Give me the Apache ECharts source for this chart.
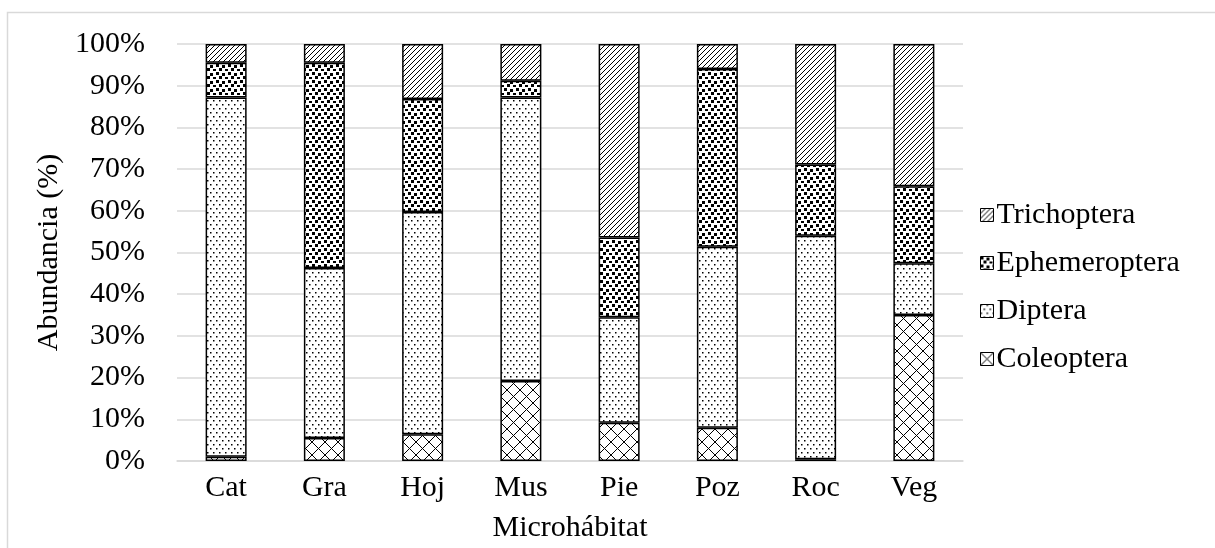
<!DOCTYPE html>
<html>
<head>
<meta charset="utf-8">
<style>
  html, body { margin: 0; padding: 0; background: #fff; }
  #chart { width: 1215px; height: 548px; }
</style>
<script src="https://cdn.jsdelivr.net/npm/echarts@6/dist/echarts.min.js"></script>
</head>
<body>
<div id="chart"></div>
<script>
// Microhabitat categories and relative abundance (%) of each order
const categories = ['Cat', 'Gra', 'Hoj', 'Mus', 'Pie', 'Poz', 'Roc', 'Veg'];
const coleoptera    = [1.0, 5.5, 6.4, 19.2, 9.2, 8.0, 0.4, 35.0];
const diptera       = [86.2, 40.8, 53.3, 68.0, 25.3, 43.4, 53.6, 12.4];
const ephemeroptera = [8.3, 49.2, 27.1, 4.0, 19.1, 42.6, 17.1, 18.5];
const trichoptera   = [4.5, 4.5, 13.2, 8.8, 46.4, 6.0, 28.9, 34.1];
const yTicks = [0, 10, 20, 30, 40, 50, 60, 70, 80, 90, 100];

const FONT = '"Liberation Serif", "Times New Roman", serif';
const FS = 30;

// Monochrome fill patterns, drawn on small tiles
function tile(w, h, draw) {
  const c = document.createElement('canvas');
  c.width = w; c.height = h;
  const g = c.getContext('2d');
  g.fillStyle = '#fff';
  g.fillRect(0, 0, w, h);
  g.fillStyle = '#000';
  g.strokeStyle = '#000';
  draw(g, w, h);
  return { image: c, repeat: 'repeat' };
}

// forward diagonal stripes
const hatchPattern = tile(5, 5, (g, w, h) => {
  g.lineWidth = 1;
  g.beginPath();
  g.moveTo(-1, h + 1); g.lineTo(w + 1, -1);
  g.moveTo(-1, 1); g.lineTo(1, -1);
  g.moveTo(w - 1, h + 1); g.lineTo(w + 1, h - 1);
  g.stroke();
});

// large confetti squares
const confettiPattern = tile(12, 8, (g) => {
  g.fillRect(0, 0, 3, 3);
  g.fillRect(6, 1, 3, 3);
  g.fillRect(3, 4, 3, 3);
  g.fillRect(9, 5, 3, 2);
});

// sparse dots
const dotPattern = tile(6, 8, (g) => {
  g.fillRect(0, 0, 1.5, 1.5);
  g.fillRect(3, 4, 1.5, 1.5);
});

// diagonal crosshatch
const crossPattern = tile(13, 13, (g, w, h) => {
  g.lineWidth = 1;
  g.beginPath();
  g.moveTo(0, 0); g.lineTo(w, h);
  g.moveTo(w, 0); g.lineTo(0, h);
  g.stroke();
});

function barSeries(name, data, pattern) {
  return {
    name: name,
    type: 'bar',
    stack: 'total',
    barWidth: 41,
    data: data,
    itemStyle: { color: pattern, borderColor: '#000', borderWidth: 1.5 },
    emphasis: { disabled: true }
  };
}

const chart = echarts.init(document.getElementById('chart'), null, { renderer: 'canvas' });

chart.setOption({
  animation: false,
  backgroundColor: '#fff',
  textStyle: { fontFamily: FONT },
  graphic: [{
    type: 'rect',
    shape: { x: 7.5, y: 12.5, width: 1220, height: 560 },
    style: { fill: 'none', stroke: '#d9d9d9', lineWidth: 1.5 },
    silent: true
  }],
  grid: { left: 177, right: 252, top: 44, bottom: 85, containLabel: false },
  legend: {
    orient: 'vertical',
    left: 975,
    top: 195,
    itemWidth: 13,
    itemHeight: 13,
    itemGap: 18,
    icon: 'rect',
    data: ['Trichoptera', 'Ephemeroptera', 'Diptera', 'Coleoptera'],
    textStyle: { fontFamily: FONT, fontSize: FS, lineHeight: FS, color: '#000', padding: [0, 0, 0, -2] },
    itemStyle: { borderColor: '#000', borderWidth: 1 }
  },
  xAxis: {
    type: 'category',
    data: categories,
    name: 'Microhábitat',
    nameLocation: 'middle',
    nameGap: 52,
    nameTextStyle: { fontFamily: FONT, fontSize: FS, color: '#000' },
    axisLine: { lineStyle: { color: '#d9d9d9', width: 1.5 } },
    axisTick: { show: false },
    axisLabel: { fontFamily: FONT, fontSize: FS, color: '#000', margin: 12 }
  },
  yAxis: {
    type: 'value',
    min: yTicks[0],
    max: yTicks[yTicks.length - 1],
    interval: yTicks[1] - yTicks[0],
    name: 'Abundancia (%)',
    nameLocation: 'middle',
    nameGap: 112,
    nameTextStyle: { fontFamily: FONT, fontSize: FS, color: '#000' },
    axisLine: { show: false },
    axisTick: { show: false },
    splitLine: { lineStyle: { color: '#d9d9d9', width: 1.5 } },
    axisLabel: { fontFamily: FONT, fontSize: FS, color: '#000', margin: 32, formatter: '{value}%' }
  },
  series: [
    barSeries('Coleoptera', coleoptera, crossPattern),
    barSeries('Diptera', diptera, dotPattern),
    barSeries('Ephemeroptera', ephemeroptera, confettiPattern),
    barSeries('Trichoptera', trichoptera, hatchPattern)
  ]
});
</script>
</body>
</html>
